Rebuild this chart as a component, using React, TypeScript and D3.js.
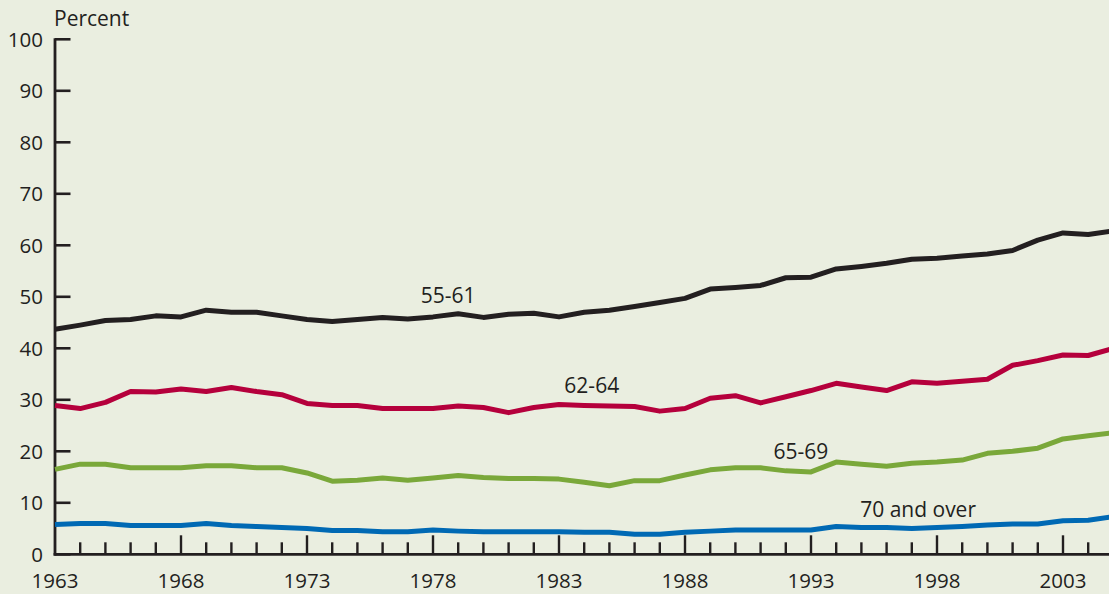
import React from "react";
import * as d3 from "d3";

const years: number[] = d3.range(1963, 2006);

const age55to61: number[] = [
  43.7, 44.5, 45.4, 45.6, 46.3, 46.1, 47.4, 47.0, 47.0, 46.3,
  45.6, 45.2, 45.6, 46.0, 45.7, 46.1, 46.7, 46.0, 46.6, 46.8,
  46.1, 47.0, 47.4, 48.1, 48.9, 49.7, 51.5, 51.8, 52.2, 53.7,
  53.8, 55.4, 55.9, 56.5, 57.3, 57.5, 57.9, 58.3, 59.0, 61.0,
  62.4, 62.1, 62.8,
];
const age62to64: number[] = [
  28.9, 28.3, 29.5, 31.6, 31.5, 32.1, 31.6, 32.4, 31.6, 31.0,
  29.3, 28.9, 28.9, 28.3, 28.3, 28.3, 28.8, 28.5, 27.5, 28.5,
  29.1, 28.9, 28.8, 28.7, 27.8, 28.3, 30.3, 30.8, 29.4, 30.6,
  31.8, 33.2, 32.5, 31.8, 33.5, 33.2, 33.6, 34.0, 36.7, 37.6,
  38.7, 38.6, 40.0,
];
const age65to69: number[] = [
  16.5, 17.5, 17.5, 16.8, 16.8, 16.8, 17.2, 17.2, 16.8, 16.8,
  15.8, 14.2, 14.4, 14.8, 14.4, 14.8, 15.3, 14.9, 14.7, 14.7,
  14.6, 14.0, 13.3, 14.3, 14.3, 15.4, 16.4, 16.8, 16.8, 16.2,
  16.0, 17.9, 17.5, 17.1, 17.7, 17.9, 18.3, 19.6, 20.0, 20.6,
  22.4, 23.0, 23.6,
];
const age70plus: number[] = [
  5.8, 6.0, 6.0, 5.6, 5.6, 5.6, 6.0, 5.6, 5.4, 5.2,
  5.0, 4.6, 4.6, 4.4, 4.4, 4.7, 4.5, 4.4, 4.4, 4.4,
  4.4, 4.3, 4.3, 3.9, 3.9, 4.3, 4.5, 4.7, 4.7, 4.7,
  4.7, 5.4, 5.2, 5.2, 5.0, 5.2, 5.4, 5.7, 5.9, 5.9,
  6.5, 6.6, 7.3,
];

const yTicks: number[] = [0, 10, 20, 30, 40, 50, 60, 70, 80, 90, 100];
const xLabelYears: number[] = [1963, 1968, 1973, 1978, 1983, 1988, 1993, 1998, 2003];

const seriesNames: string[] = ["55-61", "62-64", "65-69", "70 and over"];
const seriesColors: string[] = ["#231f20", "#b5003c", "#7aa83a", "#0069b4"];
const labelYears: number[] = [1978.6, 1984.3, 1992.6, 1997.25];
const labelValues: number[] = [48.7, 31.3, 18.6, 7.3];

const W = 1109;
const H = 594;
const FONT = "'Open Sans', 'Noto Sans', sans-serif";
const TEXT = "#231f20";

export default function App() {
  const x = d3.scaleLinear().domain([1963, 2005]).range([55, 55 + 42 * 25.2]);
  const y = d3.scaleLinear().domain([0, 100]).range([554.3, 39.3]);
  const allSeries = [age55to61, age62to64, age65to69, age70plus];
  const line = d3
    .line<number>()
    .x((_, i) => x(years[i]))
    .y((d) => y(d));

  return (
    <svg
      width={W}
      height={H}
      style={{ position: "absolute", left: 0, top: 0, display: "block" }}
      fontFamily={FONT}
    >
      <rect x={0} y={0} width={W} height={H} fill="#eaeee0" />
      {/* y ticks */}
      {yTicks.map((t) => (
        <g key={"y" + t}>
          <line x1={x(1963)} x2={x(1963) + 15.5} y1={y(t)} y2={y(t)} stroke={TEXT} strokeWidth={2.6} />
          <text x={43} y={y(t)} dy="0.36em" textAnchor="end" fontSize={20.5} fill={TEXT}>
            {t}
          </text>
        </g>
      ))}
      {/* x ticks */}
      {years.map((yr) => {
        const major = (yr - 1963) % 5 === 0;
        if (yr === 1963) return null;
        return (
          <line
            key={"x" + yr}
            x1={x(yr)}
            x2={x(yr)}
            y1={y(0)}
            y2={y(0) - (major ? 19 : 12)}
            stroke={TEXT}
            strokeWidth={2.4}
          />
        );
      })}
      {xLabelYears.map((yr) => (
        <text key={"xl" + yr} x={x(yr)} y={588} textAnchor="middle" fontSize={20.5} fill={TEXT}>
          {yr}
        </text>
      ))}
      {/* axes */}
      <line x1={x(1963)} x2={x(1963)} y1={y(100) - 1} y2={y(0) + 1.3} stroke={TEXT} strokeWidth={2.8} />
      <line x1={x(1963) - 1.4} x2={W} y1={y(0)} y2={y(0)} stroke={TEXT} strokeWidth={2.8} />
      <text x={54} y={26} fontSize={21} fill={TEXT}>
        Percent
      </text>
      {/* lines */}
      {allSeries.map((s, i) => (
        <path
          key={"s" + i}
          d={line(s) || ""}
          fill="none"
          stroke={seriesColors[i]}
          strokeWidth={5}
          strokeLinejoin="round"
        />
      ))}
      {/* labels */}
      {seriesNames.map((n, i) => (
        <text
          key={"lab" + i}
          x={x(labelYears[i])}
          y={y(labelValues[i])}
          textAnchor="middle"
          fontSize={21}
          fill={TEXT}
        >
          {n}
        </text>
      ))}
    </svg>
  );
}
